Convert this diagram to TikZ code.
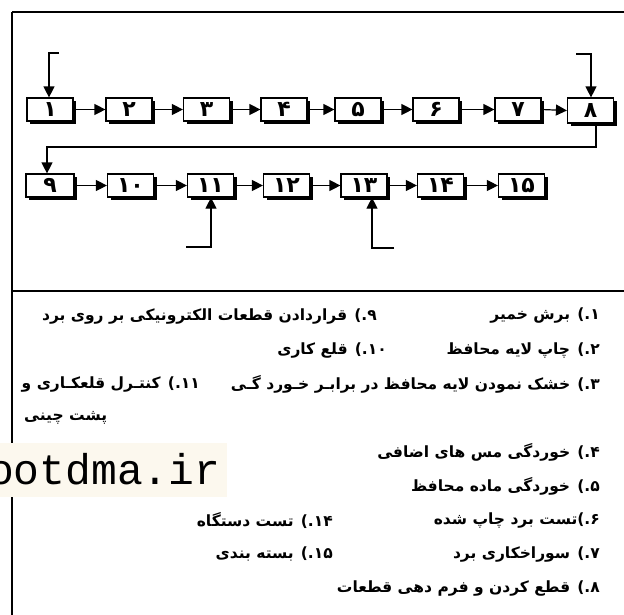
\documentclass[tikz,border=0pt]{standalone}
\usepackage{fontspec}
\usetikzlibrary{arrows.meta,shadows}
\newfontfamily\fa[Script=Arabic]{DejaVu Sans}
\newfontfamily\wm{Liberation Mono}
\TeXXeTstate=1
\definecolor{wmbg}{HTML}{FCF8EE}
\begin{document}
\begin{tikzpicture}[x=1pt,y=-1pt,
  bx/.style={draw, line width=1.2pt, fill=white, minimum width=46pt, minimum height=23pt, inner sep=0pt,
    font=\fa\bfseries\fontsize{22}{22}\selectfont,
    drop shadow={shadow xshift=3pt, shadow yshift=-3pt, fill=black, opacity=1}},
  ln/.style={line width=1.2pt, -{Triangle[length=11pt,width=11pt]}},
  fr/.style={line width=2pt},
  tx/.style={font=\fa\bfseries\fontsize{15.5}{15.5}\selectfont, inner sep=0pt}]
\useasboundingbox (0,0) rectangle (624,614);
\fill[white] (0,0) rectangle (624,614);
% frame
\draw[fr] (12,12) -- (626,12);
\draw[fr] (12,12) -- (12,616);
\draw[fr] (12,291) -- (626,291);
% row 1
\node[bx] (n1) at (50,109.5) {۱};
\node[bx] (n2) at (129,109.5) {۲};
\node[bx] (n3) at (206.5,109.5) {۳};
\node[bx] (n4) at (284,109.5) {۴};
\node[bx] (n5) at (358,109.5) {۵};
\node[bx] (n6) at (436,109.5) {۶};
\node[bx] (n7) at (518,109.5) {۷};
\node[bx, minimum height=25pt] (n8) at (590.5,110.5) {۸};
% row 2
\node[bx, minimum width=48pt] (n9) at (50,185.5) {۹};
\node[bx] (n10) at (130.5,185.5) {۱۰};
\node[bx] (n11) at (210.5,185.5) {۱۱};
\node[bx] (n12) at (286.5,185.5) {۱۲};
\node[bx] (n13) at (364,185.5) {۱۳};
\node[bx] (n14) at (440.5,185.5) {۱۴};
\node[bx] (n15) at (521.5,185.5) {۱۵};
% connectors
\foreach \a/\b in {n1/n2,n2/n3,n3/n4,n4/n5,n5/n6,n6/n7,n7/n8,n9/n10,n10/n11,n11/n12,n12/n13,n13/n14,n14/n15}
  \draw[ln] (\a.east) -- (\b.west);
\coordinate (r1) at (596,147);
\coordinate (r2) at (47,147);
\draw[ln] (n8.south -| r1) -- (r1) -- (r2) -- (n9.north -| r2);
\coordinate (in1) at (59,53);
\coordinate (c1) at (49,53);
\draw[ln] (in1) -- (c1) -- (c1 |- n1.north);
\coordinate (in8) at (576,54);
\coordinate (c8) at (591,54);
\draw[ln] (in8) -- (c8) -- (c8 |- n8.north);
\coordinate (in11) at (186,247);
\coordinate (c11) at (211,247);
\draw[ln] (in11) -- (c11) -- (c11 |- n11.south);
\coordinate (in13) at (394,248);
\coordinate (c13) at (372,248);
\draw[ln] (in13) -- (c13) -- (c13 |- n13.south);
% legend, right column
\node[tx, anchor=east] (t1) at (600,316) {\beginR ۱.) برش خمیر\endR};
\node[tx, anchor=east] (t2) at (600,350) {\beginR ۲.) چاپ لایه محافظ\endR};
\node[tx, anchor=east] (t3) at (600,384) {\beginR ۳.) خشک نمودن لایه محافظ در برابـر خـورد گـی\endR};
\node[tx, anchor=west] (t3b) at (24,418) {\beginR پشت چینی\endR};
\node[tx, anchor=east] (t4) at (600,452) {\beginR ۴.) خوردگی مس های اضافی\endR};
\node[tx, anchor=east] (t5) at (600,486) {\beginR ۵.) خوردگی ماده محافظ\endR};
\node[tx, anchor=east] (t6) at (600,520) {\beginR ۶.)تست برد چاپ شده\endR};
\node[tx, anchor=east] (t7) at (600,554) {\beginR ۷.) سوراخکاری برد\endR};
\node[tx, anchor=east] (t8) at (600,588) {\beginR ۸.) قطع کردن و فرم دهی قطعات\endR};
% legend, left column
\node[tx, anchor=east] (t9) at (377,316) {\beginR ۹.) قراردادن قطعات الکترونیکی بر روی برد\endR};
\node[tx, anchor=east] (t10) at (387,350) {\beginR ۱۰.) قلع کاری\endR};
\node[tx, anchor=east] (t11) at (200,384) {\beginR ۱۱.) کنتـرل قلعکـاری و\endR};
\node[tx, anchor=east] (t14) at (333,520) {\beginR ۱۴.) تست دستگاه\endR};
\node[tx, anchor=east] (t15) at (333,554) {\beginR ۱۵.) بسته بندی\endR};
% watermark
\fill[wmbg] (0,443) rectangle (227,497);
\node[anchor=base west, inner sep=0pt, font=\wm\fontsize{43}{43}\selectfont] (wm) at (-12,484) {ootdma.ir};
\end{tikzpicture}
\end{document}
